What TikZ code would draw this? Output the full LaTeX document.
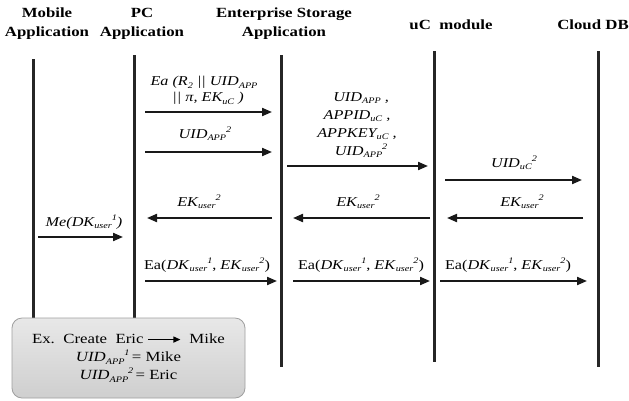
\documentclass[tikz,border=0pt]{standalone}
\usepackage{fontspec}
\setmainfont{Liberation Serif}[FakeStretch=1.2]
\usetikzlibrary{arrows.meta}
\newcommand\dsub[1]{\raisebox{-0.45ex}{\fontsize{8.5}{9}\selectfont\itshape #1}}
\newcommand\dsup[1]{\raisebox{0.85ex}{\fontsize{8.5}{9}\selectfont\itshape #1}}
\begin{document}
\begin{tikzpicture}[x=1pt,y=-1pt,
  life/.style={line width=3pt,color=black!85},
  msg/.style={line width=2pt,color=black!90,-{Triangle[length=10pt,width=8pt]}},
  head/.style={font=\fontsize{14}{19}\selectfont\bfseries,align=center,inner sep=0pt},
  lbl/.style={font=\fontsize{13.5}{16}\selectfont\itshape,align=center,inner sep=0pt},
  lblr/.style={font=\fontsize{13.5}{16}\selectfont,align=center,inner sep=0pt},
  exbox/.style={draw=gray!75,line width=0.8pt,rounded corners=10pt,top color=gray!18,bottom color=gray!38,
    minimum width=233pt,minimum height=80pt,inner sep=0pt,align=center,
    font=\fontsize{14}{18}\selectfont}]
\fill[white] (0,0) rectangle (629,400);
\path[use as bounding box] (0,0) rectangle (629,400);

% headers
\node[head] (hmob) at (47,24) {Mobile\\Application};
\node[head] (hpc) at (142,24) {PC\\Application};
\node[head] (hent) at (284,24) {Enterprise Storage\\Application};
\node[head] (huc) at (451,25) {uC\ \ module};
\node[head] (hcl) at (593,25) {Cloud DB};

% lifelines
\coordinate (mobT) at (33,59);  \coordinate (mobB) at (33,320);
\coordinate (pcT) at (134,55);  \coordinate (pcB) at (134,320);
\coordinate (entT) at (281,55); \coordinate (entB) at (281,367);
\coordinate (ucT) at (434,51);  \coordinate (ucB) at (434,362);
\coordinate (clT) at (598,51);  \coordinate (clB) at (598,367);
\draw[life] (mobT) -- (mobB);
\draw[life] (pcT) -- (pcB);
\draw[life] (entT) -- (entB);
\draw[life] (ucT) -- (ucB);
\draw[life] (clT) -- (clB);

% message end points
\coordinate (a1s) at (145,112); \coordinate (a1e) at (272,112);
\coordinate (a2s) at (145,152); \coordinate (a2e) at (272,152);
\coordinate (a3s) at (287,166); \coordinate (a3e) at (428,166);
\coordinate (a4s) at (445,180); \coordinate (a4e) at (582,180);
\coordinate (a5s) at (272,218); \coordinate (a5e) at (147,218);
\coordinate (a6s) at (430,218); \coordinate (a6e) at (293,218);
\coordinate (a7s) at (583,218); \coordinate (a7e) at (447,218);
\coordinate (a8s) at (38,237);  \coordinate (a8e) at (123,237);
\coordinate (a9s) at (145,281); \coordinate (a9e) at (277,281);
\coordinate (a10s) at (293,281); \coordinate (a10e) at (430,281);
\coordinate (a11s) at (440,281); \coordinate (a11e) at (587,281);

\draw[msg] (a1s) -- (a1e);
\draw[msg] (a2s) -- (a2e);
\draw[msg] (a3s) -- (a3e);
\draw[msg] (a4s) -- (a4e);
\draw[msg] (a5s) -- (a5e);
\draw[msg] (a6s) -- (a6e);
\draw[msg] (a7s) -- (a7e);
\draw[msg] (a8s) -- (a8e);
\draw[msg] (a9s) -- (a9e);
\draw[msg] (a10s) -- (a10e);
\draw[msg] (a11s) -- (a11e);

% labels
\node[lbl] (l1) at (204,90) {Ea (R\dsub{2} || UID\dsub{APP}\\ \ \ || \textit{π}, EK\dsub{uC} )};
\node[lbl] (l2) at (205,134) {UID\dsub{APP}\dsup{2}};
\node[lbl,font=\fontsize{13.5}{18}\selectfont\itshape] (l3) at (357,125)
  {\ \ UID\dsub{APP} ,\\ APPID\dsub{uC} ,\\ APPKEY\dsub{uC} ,\\ \ \ UID\dsub{APP}\dsup{2}};
\node[lbl] (l4) at (514,163) {UID\dsub{uC}\dsup{2}};
\node[lbl] (l5) at (199,202) {EK\dsub{user}\dsup{2}};
\node[lbl] (l6) at (358,202) {EK\dsub{user}\dsup{2}};
\node[lbl] (l7) at (522,202) {EK\dsub{user}\dsup{2}};
\node[lbl] (l8) at (84,222) {Me(DK\dsub{user}\dsup{1})};
\node[lblr] (l9) at (207,265) {Ea(\textit{DK}\dsub{user}\dsup{1}, \textit{EK}\dsub{user}\dsup{2})};
\node[lblr] (l10) at (361,265) {Ea(\textit{DK}\dsub{user}\dsup{1}, \textit{EK}\dsub{user}\dsup{2})};
\node[lblr] (l11) at (508,265) {Ea(\textit{DK}\dsub{user}\dsup{1}, \textit{EK}\dsub{user}\dsup{2})};

% example box
\node[exbox] (ex) at (128.5,358)
  {Ex.\ \ Create\ \ Eric \tikz[baseline=-0.6ex]\draw[line width=1.3pt,-{Triangle[length=7pt,width=6pt]}] (0pt,0pt) -- (32pt,0pt); \ Mike\\
   \textit{UID}\dsub{APP}\dsup{1}\,= Mike\\
   \textit{UID}\dsub{APP}\dsup{2}\,= Eric};
\end{tikzpicture}
\end{document}
